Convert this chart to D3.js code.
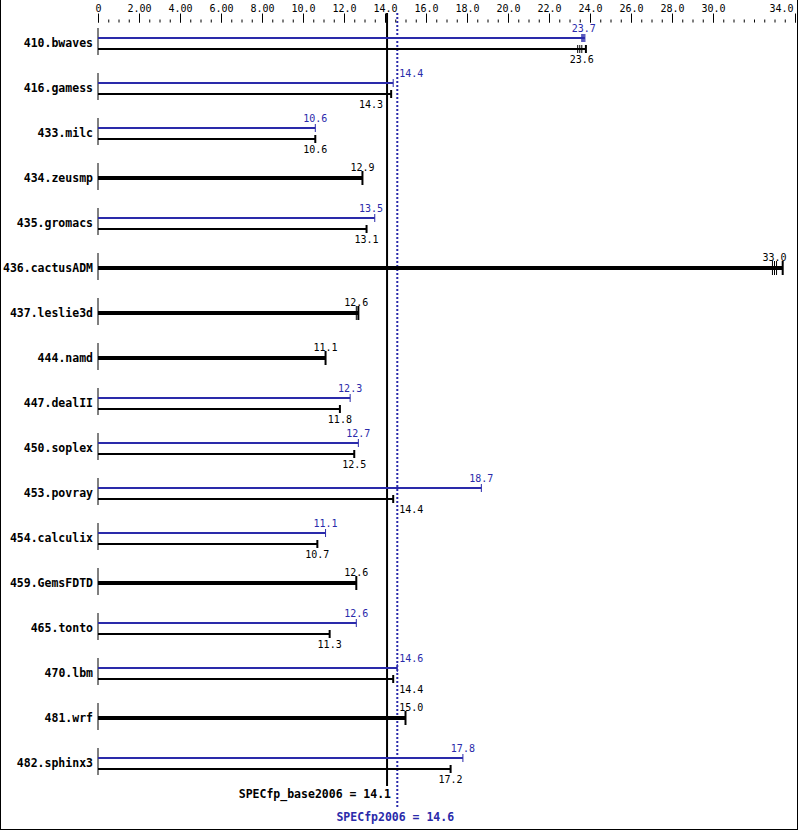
<!DOCTYPE html>
<html>
<head>
<meta charset="utf-8">
<script src="https://cdn.jsdelivr.net/npm/d3@7"></script>
<style>
  body { margin: 0; background: #fff; }
  svg { display: block; }
</style>
</head>
<body>
<div id="chart"></div>
<script>
var w = 799, h = 831;
var blue = "#2a2aaa";

// benchmark names
var benchmarks = ["410.bwaves", "416.gamess", "433.milc", "434.zeusmp", "435.gromacs",
  "436.cactusADM", "437.leslie3d", "444.namd", "447.dealII", "450.soplex", "453.povray",
  "454.calculix", "459.GemsFDTD", "465.tonto", "470.lbm", "481.wrf", "482.sphinx3"];

// base ratios and peak ratios (null = no separate peak result)
var baseValues = [23.6, 14.3, 10.6, 12.9, 13.1, 33.0, 12.6, 11.1, 11.8, 12.5, 14.4, 10.7, 12.6, 11.3, 14.4, 15.0, 17.2];
var peakValues = [23.7, 14.4, 10.6, null, 13.5, null, null, null, 12.3, 12.7, 18.7, 11.1, null, 12.6, 14.6, null, 17.8];

// other run results drawn as small ticks
var baseRuns = [[23.4, 23.5, 23.8], null, null, null, null, [32.9, 33.1, 33.4], [12.7], null, null, null, null, null, null, null, null, null, null];
var peakRuns = [[23.6, 23.65, 23.75], null, null, null, null, null, null, null, null, null, null, null, null, null, null, null, null];

var baseMean = 14.1, peakMean = 14.6;
var majorTicks = [0, 2, 4, 6, 8, 10, 12, 14, 16, 18, 20, 22, 24, 26, 28, 30, 34];
var tickLabels = ["0", "2.00", "4.00", "6.00", "8.00", "10.0", "12.0", "14.0", "16.0", "18.0", "20.0", "22.0", "24.0", "26.0", "28.0", "30.0", "34.0"];
var minorTicks = d3.range(0, 34.01, 0.5);

var svg = d3.select("#chart").append("svg")
  .attr("width", w).attr("height", h);

// frame
svg.append("rect")
  .attr("x", 0.5).attr("y", -5).attr("width", 797).attr("height", 834.5)
  .attr("fill", "none").attr("stroke", "#000");

var xScale = d3.scaleLinear().domain([0, 34]).range([98, 795]);
var yScale = d3.scalePoint().domain(benchmarks).range([43, 763]);

// top axis: minor then major ticks
var minorG = svg.append("g")
  .attr("transform", "translate(0,22.5)")
  .call(d3.axisTop(xScale).tickValues(minorTicks).tickSize(3).tickFormat(""));
minorG.select(".domain").remove();

var axisG = svg.append("g")
  .attr("transform", "translate(0,22.5)")
  .call(d3.axisTop(xScale).tickValues(majorTicks).tickSize(9)
    .tickFormat(function(d, i){ return tickLabels[i]; }));
axisG.select(".domain").remove();
axisG.selectAll("line").attr("stroke", "#000");
axisG.selectAll("text")
  .attr("y", -11)
  .attr("font-family", "'DejaVu Sans Mono', monospace")
  .attr("font-size", "10px")
  .attr("fill", "#000");
// last label pulled in so it fits inside the frame
axisG.selectAll("text").filter(function(d){ return d === 34; })
  .attr("text-anchor", "end").attr("x", -2);

var baseX = xScale(baseMean), peakX = xScale(peakMean);

// mean lines
svg.append("line")
  .attr("x1", baseX).attr("x2", baseX).attr("y1", 13).attr("y2", 786)
  .attr("stroke", "#000").attr("stroke-width", 2);
svg.append("line")
  .attr("x1", peakX).attr("x2", peakX).attr("y1", 13).attr("y2", 808)
  .attr("stroke", blue).attr("stroke-width", 2).attr("stroke-dasharray", "2,2");

// label placement that keeps clear of the two mean lines
function placeLabel(sel, v){
  var c = xScale(v);
  var half = 12;
  if (c + half > baseX - 4 && c - half < peakX + 2) {
    if (v <= (baseMean + peakMean) / 2) {
      sel.attr("x", baseX - 4).attr("text-anchor", "end");
    } else {
      sel.attr("x", peakX + 2).attr("text-anchor", "start");
    }
  } else {
    sel.attr("x", c).attr("text-anchor", "middle");
  }
}

function drawBar(g, cy, v, runs, color, thick, capW, labelY){
  var end = runs ? Math.max(v, d3.max(runs)) : v;
  g.append("line")
    .attr("x1", xScale(0)).attr("x2", xScale(end))
    .attr("y1", cy).attr("y2", cy)
    .attr("stroke", color).attr("stroke-width", thick ? 4 : 2);
  var capH = thick ? 7 : 4;
  var ends = runs ? runs.concat([v]) : [v];
  ends.forEach(function(r){
    g.append("line")
      .attr("x1", xScale(r)).attr("x2", xScale(r))
      .attr("y1", cy - capH).attr("y2", cy + capH)
      .attr("stroke", color).attr("stroke-width", r === end ? capW : 1);
  });
  var t = g.append("text")
    .attr("y", labelY)
    .attr("font-family", "'DejaVu Sans Mono', monospace")
    .attr("font-size", "10px")
    .attr("fill", color)
    .text(v.toFixed(1));
  placeLabel(t, v);
}

benchmarks.forEach(function(name, i){
  var cy = yScale(name);
  var g = svg.append("g");

  // row axis stub
  g.append("line")
    .attr("x1", xScale(0)).attr("x2", xScale(0))
    .attr("y1", cy - 15).attr("y2", cy + 12)
    .attr("stroke", "#000").attr("stroke-width", 1);

  g.append("text")
    .attr("x", 93).attr("y", cy)
    .attr("dy", "0.35em")
    .attr("text-anchor", "end")
    .attr("font-family", "'DejaVu Sans Mono', monospace")
    .attr("font-weight", "bold")
    .attr("font-size", "11.5px")
    .text(name);

  if (peakValues[i] === null) {
    drawBar(g, cy, baseValues[i], baseRuns[i], "#000", true, 2, cy - 7);
  } else {
    drawBar(g, cy - 5, peakValues[i], peakRuns[i], blue, false, 1, cy - 11);
    drawBar(g, cy + 6, baseValues[i], baseRuns[i], "#000", false, 2, cy + 20);
  }
});

// summary labels
svg.append("text")
  .attr("x", baseX + 4).attr("y", 798)
  .attr("text-anchor", "end")
  .attr("font-family", "'DejaVu Sans Mono', monospace")
  .attr("font-weight", "bold").attr("font-size", "11.5px")
  .attr("fill", "#000")
  .text("SPECfp_base2006 = " + baseMean.toFixed(1));

svg.append("text")
  .attr("x", peakX - 2).attr("y", 821)
  .attr("text-anchor", "middle")
  .attr("font-family", "'DejaVu Sans Mono', monospace")
  .attr("font-weight", "bold").attr("font-size", "11.5px")
  .attr("fill", blue)
  .text("SPECfp2006 = " + peakMean.toFixed(1));
</script>
</body>
</html>
